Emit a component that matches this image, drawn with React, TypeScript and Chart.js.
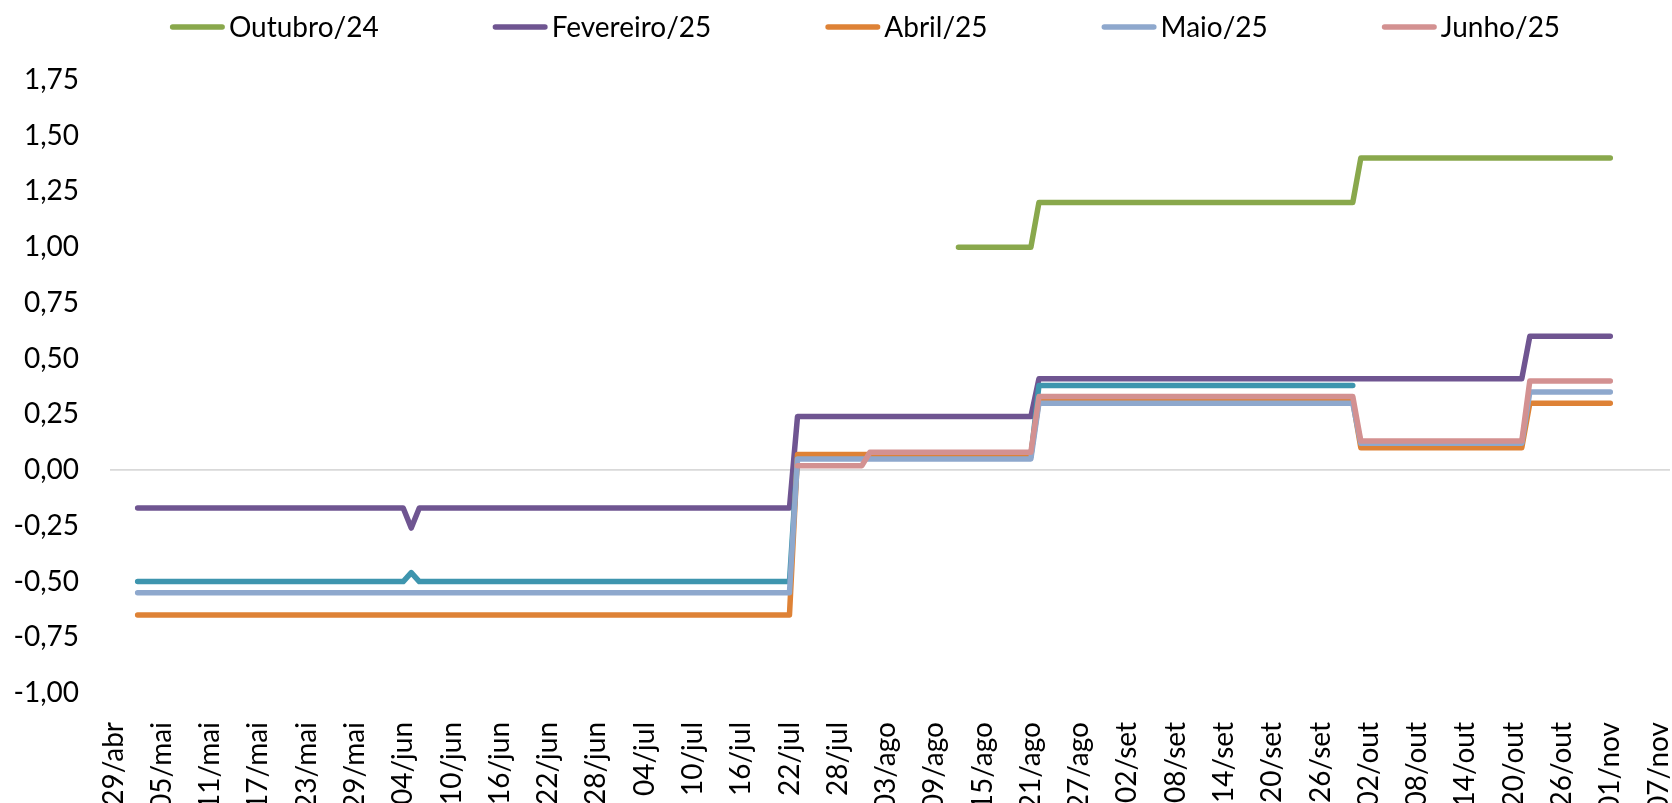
import React, { useEffect, useRef } from 'react';
import { Chart, registerables } from 'chart.js';

Chart.register(...registerables);

// ---------- data ----------
const YEAR = 2025;
const MONTHS = ['jan', 'fev', 'mar', 'abr', 'mai', 'jun', 'jul', 'ago', 'set', 'out', 'nov', 'dez'];
const AXIS_ORIGIN = '29/abr';

const xTickLabels = [
  '29/abr', '05/mai', '11/mai', '17/mai', '23/mai', '29/mai', '04/jun', '10/jun', '16/jun', '22/jun',
  '28/jun', '04/jul', '10/jul', '16/jul', '22/jul', '28/jul', '03/ago', '09/ago', '15/ago', '21/ago',
  '27/ago', '02/set', '08/set', '14/set', '20/set', '26/set', '02/out', '08/out', '14/out', '20/out',
  '26/out', '01/nov', '07/nov',
];

const yMin = -1.0;
const yMax = 1.75;
const yStep = 0.25;

const seriesLabels = ['Outubro/24', 'Fevereiro/25', '', 'Abril/25', 'Maio/25', 'Junho/25'];

const outubro24Dates = ['12/ago', '21/ago', '22/ago', '30/set', '01/out', '01/nov'];
const outubro24Values = [1.0, 1.0, 1.2, 1.2, 1.4, 1.4];

const fevereiro25Dates = ['02/mai', '04/jun', '05/jun', '06/jun', '22/jul', '23/jul', '21/ago', '22/ago', '21/out', '22/out', '01/nov'];
const fevereiro25Values = [-0.17, -0.17, -0.26, -0.17, -0.17, 0.24, 0.24, 0.41, 0.41, 0.6, 0.6];

const semLegendaDates = ['02/mai', '04/jun', '05/jun', '06/jun', '22/jul', '23/jul', '21/ago', '22/ago', '30/set'];
const semLegendaValues = [-0.5, -0.5, -0.46, -0.5, -0.5, 0.06, 0.06, 0.38, 0.38];

const abril25Dates = ['02/mai', '22/jul', '23/jul', '21/ago', '22/ago', '30/set', '01/out', '21/out', '22/out', '01/nov'];
const abril25Values = [-0.65, -0.65, 0.07, 0.07, 0.31, 0.31, 0.1, 0.1, 0.3, 0.3];

const maio25Dates = ['02/mai', '22/jul', '23/jul', '21/ago', '22/ago', '30/set', '01/out', '21/out', '22/out', '01/nov'];
const maio25Values = [-0.55, -0.55, 0.05, 0.05, 0.3, 0.3, 0.12, 0.12, 0.35, 0.35];

const junho25Dates = ['23/jul', '31/jul', '01/ago', '21/ago', '22/ago', '30/set', '01/out', '21/out', '22/out', '01/nov'];
const junho25Values = [0.02, 0.02, 0.08, 0.08, 0.33, 0.33, 0.13, 0.13, 0.4, 0.4];

const seriesColors = ['#89A84C', '#6F5591', '#3E95AE', '#DE8236', '#8EA8CD', '#D39191'];

// ---------- helpers ----------
const FONT = 'Lato, "Open Sans", sans-serif';

function dayOf(label: string): number {
  const [dd, mmm] = label.split('/');
  const [od, omm] = AXIS_ORIGIN.split('/');
  const t = Date.UTC(YEAR, MONTHS.indexOf(mmm), Number(dd));
  const t0 = Date.UTC(YEAR, MONTHS.indexOf(omm), Number(od));
  return Math.round((t - t0) / 86400000);
}

function toPoints(dates: string[], values: number[]) {
  return dates.map((d, i) => ({ x: dayOf(d), y: values[i] }));
}

function fmt(v: number): string {
  const r = Math.abs(v) < 1e-9 ? 0 : v;
  return r.toFixed(2).replace('.', ',');
}

const legendPlugin = {
  id: 'topLegend',
  afterDraw(chart: any) {
    const ctx = chart.ctx as CanvasRenderingContext2D;
    ctx.save();
    ctx.font = `28px ${FONT}`;
    const items = chart.data.datasets.filter((d: any) => d.label);
    const sample = 55;
    const gapText = 4;
    const gapItem = 114;
    const widths = items.map((d: any) => sample + gapText + ctx.measureText(d.label).width);
    const total = widths.reduce((a: number, b: number) => a + b, 0) + gapItem * (items.length - 1);
    let x = 865 - total / 2;
    const y = 27;
    items.forEach((d: any, i: number) => {
      ctx.strokeStyle = d.borderColor;
      ctx.lineWidth = 5.5;
      ctx.lineCap = 'round';
      ctx.beginPath();
      ctx.moveTo(x + 2.75, y);
      ctx.lineTo(x + sample - 2.75, y);
      ctx.stroke();
      ctx.fillStyle = '#000';
      ctx.textBaseline = 'middle';
      ctx.textAlign = 'left';
      ctx.fillText(d.label, x + sample + gapText, y + 1);
      x += widths[i] + gapItem;
    });
    ctx.restore();
  },
};

export default function App() {
  const canvasRef = useRef<HTMLCanvasElement | null>(null);

  useEffect(() => {
    if (!canvasRef.current) return;
    const seriesData = [
      toPoints(outubro24Dates, outubro24Values),
      toPoints(fevereiro25Dates, fevereiro25Values),
      toPoints(semLegendaDates, semLegendaValues),
      toPoints(abril25Dates, abril25Values),
      toPoints(maio25Dates, maio25Values),
      toPoints(junho25Dates, junho25Values),
    ];
    const n = seriesData.length;
    const datasets = seriesData.map((data, i) => ({
      label: seriesLabels[i],
      data,
      borderColor: seriesColors[i],
      backgroundColor: seriesColors[i],
      borderWidth: 5.5,
      borderCapStyle: 'round' as const,
      borderJoinStyle: 'round' as const,
      pointRadius: 0,
      tension: 0,
      fill: false,
      order: n - i,
    }));
    const labelByDay = new Map<number, string>();
    xTickLabels.forEach((l) => labelByDay.set(dayOf(l), l));

    const chart = new Chart(canvasRef.current, {
      type: 'line',
      data: { datasets },
      options: {
        responsive: false,
        animation: false,
        layout: { padding: { top: 80, right: 2, left: 0, bottom: 0 } },
        plugins: { legend: { display: false }, tooltip: { enabled: false } },
        scales: {
          x: {
            type: 'linear',
            min: -0.435,
            max: 193.42,
            grid: { display: false },
            border: { display: false },
            afterBuildTicks: (s: any) => {
              s.ticks = xTickLabels.map((l) => ({ value: dayOf(l) }));
            },
            ticks: {
              autoSkip: false,
              minRotation: 90,
              maxRotation: 90,
              padding: 21,
              color: '#000',
              font: { family: FONT, size: 28 },
              callback: (v: any) => labelByDay.get(Number(v)) ?? '',
            },
            afterFit: (s: any) => {
              s.height = 110;
              s.paddingLeft = 0;
              s.paddingRight = 0;
            },
          },
          y: {
            type: 'linear',
            min: yMin,
            max: yMax,
            border: { display: false },
            grid: {
              drawTicks: false,
              lineWidth: 1.75,
              color: (c: any) => (c.tick && Math.abs(c.tick.value) < 1e-9 ? '#D9D9D9' : 'rgba(0,0,0,0)'),
            },
            ticks: {
              stepSize: yStep,
              padding: 31,
              color: '#000',
              font: { family: FONT, size: 28 },
              callback: (v: any) => fmt(Number(v)),
            },
            afterFit: (s: any) => {
              s.width = 110;
              s.paddingTop = 0;
              s.paddingBottom = 0;
            },
          },
        },
      },
      plugins: [legendPlugin],
    });
    return () => chart.destroy();
  }, []);

  return (
    <div style={{ position: 'fixed', left: 0, top: 0, width: 1672, height: 803, background: '#fff' }}>
      <canvas ref={canvasRef} width={1672} height={803} />
    </div>
  );
}
